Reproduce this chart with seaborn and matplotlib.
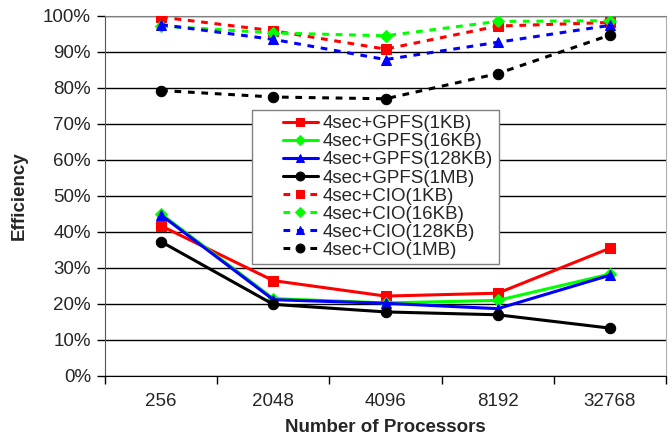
import matplotlib
matplotlib.use("Agg")
import matplotlib.pyplot as plt
import seaborn as sns
import numpy as np
from matplotlib.ticker import PercentFormatter, FixedLocator
from matplotlib.lines import Line2D
from matplotlib.legend_handler import HandlerLine2D

# data (efficiency in %)
procs = ["256", "2048", "4096", "8192", "32768"]
gpfs_1kb = [41.7, 26.5, 22.2, 23.0, 35.5]
gpfs_16kb = [45.0, 21.5, 20.3, 21.0, 28.3]
gpfs_128kb = [44.7, 21.2, 20.2, 18.7, 28.0]
gpfs_1mb = [37.3, 19.9, 17.8, 17.0, 13.3]
cio_1kb = [99.7, 95.9, 90.8, 97.2, 98.2]
cio_16kb = [97.2, 95.3, 94.5, 98.5, 98.7]
cio_128kb = [97.6, 93.5, 87.9, 92.7, 97.4]
cio_1mb = [79.3, 77.5, 77.0, 84.0, 94.7]

series = [
    ("4sec+GPFS(1KB)", gpfs_1kb, "#ff0000", "s", "-"),
    ("4sec+GPFS(16KB)", gpfs_16kb, "#00ff00", "D", "-"),
    ("4sec+GPFS(128KB)", gpfs_128kb, "#0000ff", "^", "-"),
    ("4sec+GPFS(1MB)", gpfs_1mb, "#000000", "o", "-"),
    ("4sec+CIO(1KB)", cio_1kb, "#ff0000", "s", "--"),
    ("4sec+CIO(16KB)", cio_16kb, "#00ff00", "D", "--"),
    ("4sec+CIO(128KB)", cio_128kb, "#0000ff", "^", "--"),
    ("4sec+CIO(1MB)", cio_1mb, "#000000", "o", "--"),
]

sns.set_style("white")
plt.rcParams["font.family"] = ["Liberation Sans", "DejaVu Sans"]

fig = plt.figure(figsize=(6.72, 4.40), dpi=100)
ax = fig.add_axes([105 / 672, 1 - 376 / 440, 561 / 672, 360 / 440])

xpos = np.arange(len(procs))
for label, vals, color, marker, ls in series:
    msize = 6 if marker == "D" else 7.5
    sns.lineplot(x=xpos, y=vals, ax=ax, color=color, marker=marker,
                 markersize=msize, markeredgecolor=color, linewidth=2.2,
                 label=label, zorder=3)
    ax.lines[-1].set_linestyle((0, (2.2, 2.2)) if ls == "--" else "-")

ax.set_xlim(-0.5, len(procs) - 0.5)
ax.set_ylim(0, 100)
ax.set_yticks(np.arange(0, 101, 10))
ax.yaxis.set_major_formatter(PercentFormatter(decimals=0))
ax.grid(axis="y", color="black", linewidth=1.0)
ax.set_axisbelow(True)

# ticks at category boundaries, labels at centres
ax.xaxis.set_major_locator(FixedLocator(np.arange(-0.5, len(procs), 1.0)))
ax.xaxis.set_major_formatter(plt.NullFormatter())
ax.xaxis.set_minor_locator(FixedLocator(xpos))
ax.set_xticks(xpos, procs, minor=True)
ax.tick_params(axis="x", which="major", direction="out", length=6, width=1, color="black", bottom=True)
ax.tick_params(axis="x", which="minor", length=0, pad=12, labelsize=13.5)
ax.tick_params(axis="y", direction="out", length=6, width=1, color="black", left=True, labelsize=13.5, pad=4)

ax.spines["top"].set_color("#808080")
ax.spines["left"].set_color("#555555")
ax.spines["right"].set_color("#b0b0b0")
ax.spines["bottom"].set_color("black")

ax.set_xlabel("Number of Processors", fontsize=13.5, fontweight="bold", labelpad=7)
ax.set_ylabel("Efficiency", fontsize=13.5, fontweight="bold", labelpad=11)

leg = ax.legend(loc="upper left", bbox_to_anchor=(0.262, 0.74), fontsize=13.5,
                frameon=True, fancybox=False, framealpha=1, edgecolor="#808080",
                labelspacing=0.05, handlelength=3.2, handletextpad=0.27,
                borderpad=0.3, borderaxespad=0, markerscale=0.85,
                handler_map={Line2D: HandlerLine2D(xpad=1.33)})
leg.get_frame().set_linewidth(1.0)

fig.savefig("out.png", dpi=100)
